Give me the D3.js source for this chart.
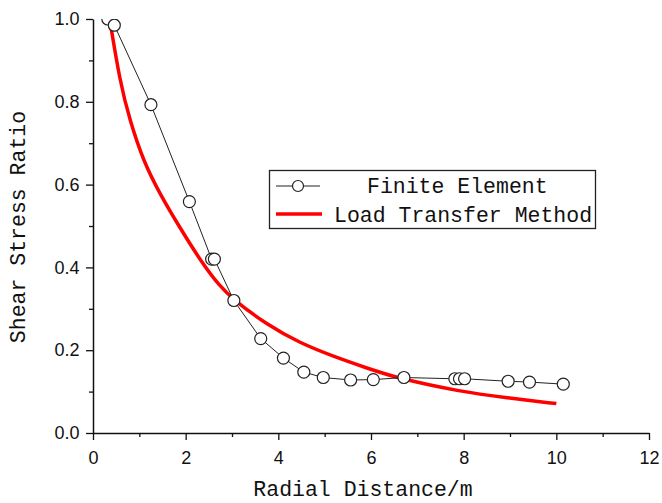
<!DOCTYPE html>
<html>
<head>
<meta charset="utf-8">
<script src="https://cdn.jsdelivr.net/npm/d3@7"></script>
<style>
  body { margin: 0; background: #fff; }
  svg { display: block; }
</style>
</head>
<body>
<script>
// Finite element results (radial distance m, shear stress ratio)
const feX = [0.32, 0.46, 1.25, 2.08, 2.56, 2.62, 3.04, 3.62, 4.11, 4.55, 4.97, 5.56, 6.05, 6.71, 7.81, 7.91, 8.02, 8.96, 9.42, 10.15];
const feY = [1.0, 0.985, 0.793, 0.559, 0.420, 0.420, 0.320, 0.228, 0.181, 0.147, 0.134, 0.128, 0.129, 0.134, 0.131, 0.131, 0.131, 0.125, 0.123, 0.118];

// Load transfer method curve
const ltX = [0.36, 0.58, 0.80, 1.09, 1.45, 1.88, 2.35, 2.74, 3.03, 3.75, 4.47, 5.19, 5.91, 6.55, 7.92, 8.93, 10.0];
const ltY = [1.0, 0.849, 0.753, 0.656, 0.576, 0.495, 0.411, 0.354, 0.322, 0.262, 0.217, 0.185, 0.157, 0.133, 0.100, 0.085, 0.071];

const xTicks = [0, 2, 4, 6, 8, 10, 12];
const yTicks = [0.0, 0.2, 0.4, 0.6, 0.8, 1.0];
const legendLabels = ["Finite Element", "Load Transfer Method"];

const W = 662, H = 503;
const margin = {left: 93, right: 13, top: 19, bottom: 70};

const svg = d3.select("body").append("svg")
    .attr("width", W)
    .attr("height", H);

const x = d3.scaleLinear().domain([0, 12]).range([margin.left, W - margin.right]);
const y = d3.scaleLinear().domain([0, 1]).range([H - margin.bottom, margin.top]);

// plot area clip (the first marker is cut at the top)
svg.append("clipPath").attr("id", "plot")
  .append("rect")
    .attr("x", x(0)).attr("y", y(1))
    .attr("width", x(12) - x(0)).attr("height", y(0) - y(1));

// axes, major ticks + minor ticks
const xAxis = svg.append("g")
    .attr("transform", `translate(0,${y(0)})`)
    .call(d3.axisBottom(x).tickValues(xTicks).tickSize(7).tickSizeOuter(0).tickFormat(d3.format("d")));
svg.append("g")
    .attr("transform", `translate(0,${y(0)})`)
    .call(d3.axisBottom(x).tickValues(d3.range(1, 12, 2)).tickSize(4).tickFormat(""))
    .select(".domain").remove();

const yAxis = svg.append("g")
    .attr("transform", `translate(${x(0)},0)`)
    .call(d3.axisLeft(y).tickValues(yTicks).tickSize(7).tickSizeOuter(0).tickFormat(d3.format(".1f")));
svg.append("g")
    .attr("transform", `translate(${x(0)},0)`)
    .call(d3.axisLeft(y).tickValues([0.1, 0.3, 0.5, 0.7, 0.9]).tickSize(4).tickFormat(""))
    .select(".domain").remove();

svg.selectAll(".domain").attr("stroke", "#111").attr("stroke-width", 1.5);
svg.selectAll(".tick line").attr("stroke", "#111").attr("stroke-width", 1.3);
svg.selectAll(".tick text")
    .attr("font-family", "Liberation Sans, Arial, sans-serif")
    .attr("font-size", 18)
    .attr("fill", "#111");
xAxis.selectAll(".tick text").attr("dy", "1.15em");
yAxis.selectAll(".tick text").attr("dx", "-0.2em");

// axis titles
svg.append("text")
    .attr("x", 363)
    .attr("y", 496)
    .attr("text-anchor", "middle")
    .attr("font-family", "Liberation Mono, Courier New, monospace")
    .attr("font-size", 21.5)
    .attr("fill", "#111")
    .text("Radial Distance/m");

svg.append("text")
    .attr("transform", "translate(25,227) rotate(-90)")
    .attr("text-anchor", "middle")
    .attr("font-family", "Liberation Mono, Courier New, monospace")
    .attr("font-size", 21.5)
    .attr("fill", "#111")
    .text("Shear Stress Ratio");

const plot = svg.append("g").attr("clip-path", "url(#plot)");

// load transfer method curve
const lt = ltX.map((d, i) => [d, ltY[i]]);
plot.append("path")
    .datum(lt)
    .attr("fill", "none")
    .attr("stroke", "#ff0000")
    .attr("stroke-width", 3.5)
    .attr("d", d3.line().x(d => x(d[0])).y(d => y(d[1])).curve(d3.curveBasis));

// finite element line and markers
const fe = feX.map((d, i) => [d, feY[i]]);
plot.append("path")
    .datum(fe)
    .attr("fill", "none")
    .attr("stroke", "#222")
    .attr("stroke-width", 1)
    .attr("d", d3.line().x(d => x(d[0])).y(d => y(d[1])));

plot.selectAll("circle.fe")
    .data(fe)
    .enter()
    .append("circle")
        .attr("class", "fe")
        .attr("cx", d => x(d[0]))
        .attr("cy", d => y(d[1]))
        .attr("r", 6)
        .attr("fill", "white")
        .attr("stroke", "#222")
        .attr("stroke-width", 1.2);

// legend
const lg = svg.append("g");
lg.append("rect")
    .attr("x", 269.5).attr("y", 170.5)
    .attr("width", 326).attr("height", 58)
    .attr("fill", "white")
    .attr("stroke", "#222")
    .attr("stroke-width", 1.3);

lg.append("line")
    .attr("x1", 276).attr("x2", 320).attr("y1", 186).attr("y2", 186)
    .attr("stroke", "#222").attr("stroke-width", 1);
lg.append("circle")
    .attr("cx", 298).attr("cy", 186).attr("r", 5.5)
    .attr("fill", "white").attr("stroke", "#222").attr("stroke-width", 1.2);
lg.append("line")
    .attr("x1", 276).attr("x2", 322).attr("y1", 214).attr("y2", 214)
    .attr("stroke", "#ff0000").attr("stroke-width", 3.5);

lg.selectAll("text")
    .data(legendLabels)
    .enter()
    .append("text")
        .attr("x", (d, i) => i === 0 ? 367 : 334)
        .attr("y", (d, i) => 193 + i * 29)
        .attr("font-family", "Liberation Mono, Courier New, monospace")
        .attr("font-size", 21.5)
        .attr("fill", "#111")
        .text(d => d);
</script>
</body>
</html>
